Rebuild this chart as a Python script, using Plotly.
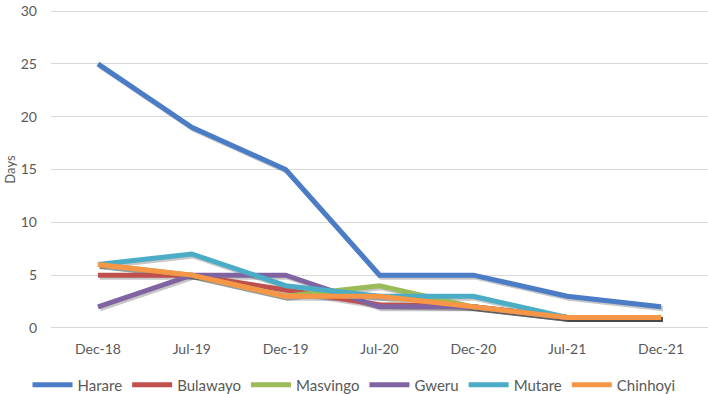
import plotly.graph_objects as go

periods = ["Dec-18", "Jul-19", "Dec-19", "Jul-20", "Dec-20", "Jul-21", "Dec-21"]
harare = [25, 19, 15, 5, 5, 3, 2]
bulawayo = [5, 5, 3.6, 2.2, 2, 1, 1]
masvingo = [6, 5, 3, 4, 2, 1, 1]
gweru = [2, 5, 5, 2, 2, 1, 1]
mutare = [6, 7, 4, 3, 3, 1, 1]
chinhoyi = [6, 5, 3, 3, 2, 1, 1]

series = [
    ("Harare", harare, "#4a7dc6"),
    ("Bulawayo", bulawayo, "#c0504d"),
    ("Masvingo", masvingo, "#9bbb59"),
    ("Gweru", gweru, "#8064a2"),
    ("Mutare", mutare, "#4bacc6"),
    ("Chinhoyi", chinhoyi, "#f79646"),
]

font = "Lato, Open Sans, sans-serif"
fig = go.Figure()

# soft shadows on the base axes (drawn beneath the overlay axes)
for name, vals, col in series:
    fig.add_trace(go.Scatter(x=periods, y=vals, mode="lines", xaxis="x", yaxis="y",
                             line=dict(color="rgba(0,0,0,0.22)", width=5),
                             showlegend=False, hoverinfo="skip"))
# main lines on overlay axes (drawn above)
for name, vals, col in series:
    fig.add_trace(go.Scatter(x=periods, y=vals, mode="lines", name=name,
                             xaxis="x2", yaxis="y2",
                             line=dict(color=col, width=5)))

fig.update_layout(
    width=708, height=394,
    margin=dict(l=51, r=0, t=10, b=65, autoexpand=False),
    paper_bgcolor="white", plot_bgcolor="white",
    font=dict(family=font, size=14, color="#595959"),
    xaxis=dict(type="category", range=[-0.52, 6.48], showgrid=False, zeroline=False,
               showline=False, showticklabels=False, ticks="", automargin=False),
    xaxis2=dict(type="category", range=[-0.5, 6.5], overlaying="x", side="bottom",
                showgrid=False, zeroline=False, showline=False, ticks="",
                automargin=False, ticklabeloverflow="allow",
                ticklabelstandoff=10, tickfont=dict(size=14, color="#595959")),
    yaxis=dict(range=[-0.1 + 0.19, 30.1 + 0.19], showgrid=False, zeroline=False,
               showline=False, showticklabels=False, ticks="", automargin=False),
    yaxis2=dict(range=[-0.1, 30.1], dtick=5, overlaying="y", side="left",
                showgrid=True, gridcolor="#d9d9d9", gridwidth=1, automargin=False,
                zeroline=False, showline=False, ticks="", ticklabelstandoff=13,
                ticklabeloverflow="allow",
                tickfont=dict(size=14, color="#595959"),
                title=dict(text="Days", font=dict(size=13, color="#595959"), standoff=2)),
    legend=dict(orientation="h", xref="container", x=0.5, xanchor="center",
                yref="container", y=0.023, yanchor="middle",
                font=dict(size=15, color="#595959"), itemwidth=40,
                traceorder="normal"),
)

fig.write_html("out.html", config={"displayModeBar": False},
               post_script="document.body.style.margin='0';")
